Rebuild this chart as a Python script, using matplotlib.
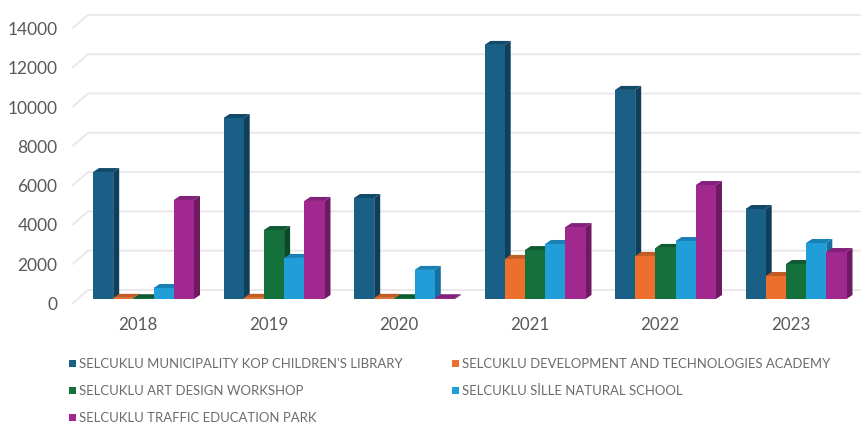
import matplotlib
matplotlib.use("Agg")
import matplotlib.pyplot as plt
from matplotlib.patches import Polygon, Rectangle

plt.rcParams['font.family'] = ['Lato', 'Open Sans', 'DejaVu Sans']

years = ['2018', '2019', '2020', '2021', '2022', '2023']
kop_library = [6460, 9210, 5140, 12930, 10640, 4580]
academy = [60, 60, 60, 2040, 2190, 1170]
art_workshop = [40, 3510, 40, 2490, 2600, 1780]
sille_school = [560, 2090, 1480, 2800, 2950, 2850]
traffic_park = [5040, 4990, 40, 3660, 5800, 2390]
y_ticks = [0, 2000, 4000, 6000, 8000, 10000, 12000, 14000]

series_names = ["SELCUKLU MUNICIPALITY KOP CHILDREN'S LIBRARY",
                "SELCUKLU DEVELOPMENT AND TECHNOLOGIES ACADEMY",
                "SELCUKLU ART DESIGN WORKSHOP",
                "SELCUKLU SİLLE NATURAL SCHOOL",
                "SELCUKLU TRAFFIC EDUCATION PARK"]
series = [kop_library, academy, art_workshop, sille_school, traffic_park]
front_cols = ['#1a5f85', '#ec6f2d', '#14713c', '#1f9ed8', '#a0288f']
side_cols = ['#0e3f5c', '#a84e1e', '#0c4a27', '#1470a0', '#6e1a63']
top_cols = ['#124a6a', '#c25a24', '#0f5a30', '#1880b5', '#82207a']

# pixel scale of the picture
W, H = 861, 423
cat_step = 130.5     # px between years
cat_x0 = 139         # px of the first year
base_y = 299         # px of the bar floor
px_per_unit = 39.3 / 2000
bar_w = 20.2 / cat_step
dx = 6 / cat_step
dy = 4 / px_per_unit

fig = plt.figure(figsize=(W / 100, H / 100), dpi=100)
ax = fig.add_axes([0, 0, 1, 1])
ax.set_xlim(-cat_x0 / cat_step, (W - cat_x0) / cat_step)
ax.set_ylim(-(H - base_y) / px_per_unit, base_y / px_per_unit)
ax.axis('off')

# walls: grid lines with the slanted bit on the left
tick_shift = -4 / px_per_unit   # front edge of the floor sits a little below the bars
label_shift = -2 / px_per_unit
back_left = (88 - cat_x0) / cat_step
front_left = (73 - cat_x0) / cat_step
wall_dy = 13 / px_per_unit
for t in y_ticks:
    y0 = t + tick_shift
    ax.plot([front_left, back_left, (W - cat_x0) / cat_step - 0.01], [y0, y0 + wall_dy, y0 + wall_dy],
            color='#ebe7ea', lw=1.4, zorder=1)
    ax.text((57.5 - cat_x0) / cat_step, y0 + label_shift, str(t), ha='right', va='center',
            fontsize=12.5, color='#595959')

# bars
group_start = (93 - cat_x0) / cat_step
for i in range(len(years)):
    for j, vals in enumerate(series):
        x = i + group_start + j * bar_w
        v = vals[i]
        ax.add_patch(Polygon([(x + bar_w, 0), (x + bar_w + dx, dy), (x + bar_w + dx, v + dy), (x + bar_w, v)],
                             fc=side_cols[j], ec='none', zorder=2 + i + j * 0.1))
        ax.add_patch(Polygon([(x, v), (x + dx, v + dy), (x + bar_w + dx, v + dy), (x + bar_w, v)],
                             fc=top_cols[j], ec='none', zorder=2 + i + j * 0.1))
        ax.add_patch(Rectangle((x, 0), bar_w, v, fc=front_cols[j], ec='none', zorder=2.05 + i + j * 0.1))
    ax.text(i - 1 / cat_step, -(325 - base_y) / px_per_unit, years[i], ha='center', va='center',
            fontsize=12.2, color='#595959')

# legend by hand, two columns and three rows
leg_x = [(69 - cat_x0) / cat_step, (452 - cat_x0) / cat_step]
leg_y = [363, 390, 417]
sq = 7
for k, name in enumerate(series_names):
    col = k % 2
    row = k // 2
    y_mid = (base_y - leg_y[row]) / px_per_unit
    ax.add_patch(Rectangle((leg_x[col], y_mid - sq / 2 / px_per_unit), sq / cat_step, sq / px_per_unit,
                           fc=front_cols[k], ec='none'))
    ax.text(leg_x[col] + 10 / cat_step, y_mid - 0.5 / px_per_unit, name, ha='left', va='center',
            fontsize=9.42, color='#6b6b6b')

fig.savefig('out.png', dpi=100)
